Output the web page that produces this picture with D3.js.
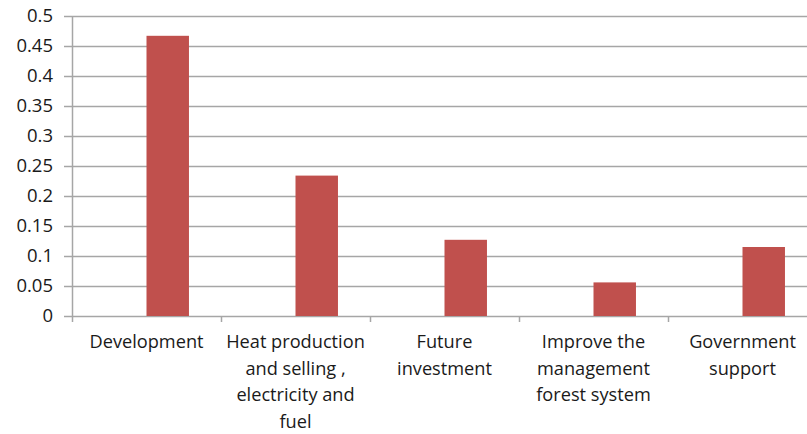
<!DOCTYPE html>
<html><head><meta charset="utf-8">
<script src="https://cdn.jsdelivr.net/npm/d3@7"></script>
<style>body{margin:0;background:#fff;} svg{display:block;}</style>
</head><body>
<svg id="c" width="807" height="434"></svg>
<script>
const categories = ["Development", "Heat production and selling , electricity and fuel", "Future investment", "Improve the management forest system", "Government support"];
const labelLines = [["Development"], ["Heat production", "and selling ,", "electricity and", "fuel"], ["Future", "investment"], ["Improve the", "management", "forest system"], ["Government", "support"]];
const values = [0.467, 0.234, 0.127, 0.056, 0.115];
const yTicks = [0, 0.05, 0.1, 0.15, 0.2, 0.25, 0.3, 0.35, 0.4, 0.45, 0.5];

(function () {
const svg = d3.select("#c");
const font = "'Open Sans', sans-serif";
const pLeft = 72, pRight = 817, pTop = 16, pBottom = 316;
const x = d3.scaleBand().domain(categories).range([pLeft, pRight]).paddingInner(0).paddingOuter(0);
const y = d3.scaleLinear().domain([0, 0.5]).range([pBottom, pTop]);

// gridlines
svg.append("g").selectAll("line").data(yTicks).join("line")
  .attr("x1", pLeft - 8).attr("x2", 807)
  .attr("y1", d => Math.round(y(d)) + 0.5).attr("y2", d => Math.round(y(d)) + 0.5)
  .attr("stroke", "#a6a6a6").attr("stroke-width", 1.5);

// y tick labels
svg.append("g").selectAll("text").data(yTicks).join("text")
  .attr("x", 53).attr("y", d => y(d)).attr("dy", "0.35em")
  .attr("text-anchor", "end").attr("font-family", font).attr("font-size", 18.5).attr("fill", "#1a1a1a")
  .text(d => d3.format("")(d));

// y axis line
svg.append("line").attr("x1", pLeft + 0.5).attr("x2", pLeft + 0.5).attr("y1", pTop).attr("y2", pBottom + 6)
  .attr("stroke", "#a6a6a6").attr("stroke-width", 1.5);

// category ticks
svg.append("g").selectAll("line").data(categories.slice(1)).join("line")
  .attr("x1", d => Math.round(x(d)) + 0.5).attr("x2", d => Math.round(x(d)) + 0.5)
  .attr("y1", pBottom).attr("y2", pBottom + 6)
  .attr("stroke", "#a6a6a6").attr("stroke-width", 1.5);

// bars
const bw = x.bandwidth();
svg.append("g").selectAll("rect").data(values).join("rect")
  .attr("x", (d, i) => x(categories[i]) + bw / 2)
  .attr("width", bw * 0.285)
  .attr("y", d => y(d)).attr("height", d => y(0) - y(d))
  .attr("fill", "#c0504d");

// category labels
const lg = svg.append("g");
labelLines.forEach((lines, i) => {
  const cx = x(categories[i]) + bw / 2;
  lines.forEach((t, j) => {
    lg.append("text").attr("x", cx).attr("y", 348 + j * 26.6)
      .attr("text-anchor", "middle").attr("font-family", font).attr("font-size", 18.2).attr("fill", "#1a1a1a")
      .text(t);
  });
});
})();
</script>
</body></html>
